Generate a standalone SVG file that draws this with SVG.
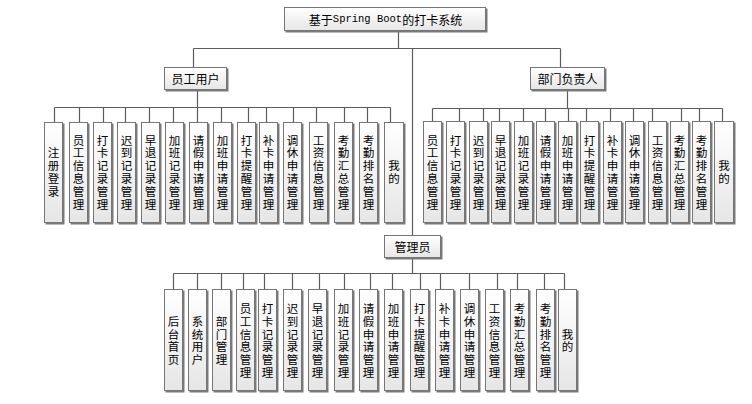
<svg xmlns="http://www.w3.org/2000/svg" width="752" height="404" viewBox="0 0 752 404">
<defs>
<linearGradient id="g" x1="0" y1="0" x2="0" y2="1">
<stop offset="0" stop-color="#ffffff"/>
<stop offset="1" stop-color="#e6e6e6"/>
</linearGradient>
<filter id="sh" x="-20%" y="-20%" width="140%" height="140%">
<feDropShadow dx="1.5" dy="1.5" stdDeviation="0.3" flood-color="#7a7a7a" flood-opacity="1"/>
</filter>
<style>
.b{fill:url(#g);stroke:#767676;stroke-width:1;filter:url(#sh)}
.c{fill:none;stroke:#5c5c5c;stroke-width:1.2}
text{font-family:"Noto Sans CJK SC","Noto Sans",sans-serif;fill:#000}
.h{font-size:12px;text-anchor:middle;dominant-baseline:central}
.v{font-size:11.5px;text-anchor:middle;dominant-baseline:central}
.m{font-family:"Liberation Mono",monospace;font-size:10.5px}
</style>
</defs>
<rect width="752" height="404" fill="#ffffff"/>
<g id="connectors" class="c">
<path d="M398.5 31V48.5M193.5 48.5H560.5M193.5 48.5V67.5M560.5 48.5V67.5M412.5 48.5V235.5"/>
<path d="M197.5 90V107.5M54.5 107.5H390.5M54.5 107.5V122.5M79.5 107.5V122.5M103.5 107.5V122.5M125.5 107.5V122.5M149.5 107.5V122.5M173.5 107.5V122.5M197.5 107.5V122.5M221.5 107.5V122.5M248.5 107.5V122.5M266.5 107.5V122.5M293.5 107.5V122.5M316.5 107.5V122.5M344.5 107.5V122.5M367.5 107.5V122.5M390.5 107.5V122.5"/>
<path d="M567.5 90V108.5M432.5 108.5H722.5M432.5 108.5V121.5M459.5 108.5V121.5M483.5 108.5V121.5M499.5 108.5V121.5M523.5 108.5V121.5M545.5 108.5V121.5M568.5 108.5V121.5M586.5 108.5V121.5M610.5 108.5V121.5M633.5 108.5V121.5M652.5 108.5V121.5M681.5 108.5V121.5M699.5 108.5V121.5M722.5 108.5V121.5"/>
<path d="M412.5 258V273.5M173.5 273.5H564.5M173.5 273.5V289.5M197.5 273.5V289.5M221.5 273.5V289.5M243.5 273.5V289.5M264.5 273.5V289.5M292.5 273.5V289.5M319.5 273.5V289.5M344.5 273.5V289.5M370.5 273.5V289.5M392.5 273.5V289.5M420.5 273.5V289.5M440.5 273.5V289.5M469.5 273.5V289.5M497.5 273.5V289.5M517.5 273.5V289.5M544.5 273.5V289.5M564.5 273.5V289.5"/>
</g>
<g id="root"><rect class="b" x="284.5" y="7.5" width="201" height="23"/><text class="h" x="385.5" y="19">基于<tspan class="m">Spring Boot</tspan>的打卡系统</text></g>
<g id="staff"><rect class="b" x="164.5" y="67.5" width="62" height="22"/><text class="h" x="195.5" y="78.5">员工用户</text></g>
<g id="dept"><rect class="b" x="530.5" y="67.5" width="74" height="22"/><text class="h" x="567.5" y="78.5">部门负责人</text></g>
<g id="admin"><rect class="b" x="384.5" y="235.5" width="56" height="22"/><text class="h" x="412.5" y="246.5">管理员</text></g>

<g id="s1"><rect class="b" x="44.5" y="122.5" width="18" height="100"/><text class="v" x="53.5 53.5 53.5 53.5" y="152.3 165.1 177.9 190.7">注册登录</text></g>
<g id="s2"><rect class="b" x="69.5" y="122.5" width="18" height="100"/><text class="v" x="78.5 78.5 78.5 78.5 78.5 78.5" y="139.5 152.3 165.1 177.9 190.7 203.5">员工信息管理</text></g>
<g id="s3"><rect class="b" x="93.5" y="122.5" width="18" height="100"/><text class="v" x="102.5 102.5 102.5 102.5 102.5 102.5" y="139.5 152.3 165.1 177.9 190.7 203.5">打卡记录管理</text></g>
<g id="s4"><rect class="b" x="117.5" y="122.5" width="18" height="100"/><text class="v" x="126.5 126.5 126.5 126.5 126.5 126.5" y="139.5 152.3 165.1 177.9 190.7 203.5">迟到记录管理</text></g>
<g id="s5"><rect class="b" x="141.5" y="122.5" width="18" height="100"/><text class="v" x="150.5 150.5 150.5 150.5 150.5 150.5" y="139.5 152.3 165.1 177.9 190.7 203.5">早退记录管理</text></g>
<g id="s6"><rect class="b" x="165.5" y="122.5" width="18" height="100"/><text class="v" x="174.5 174.5 174.5 174.5 174.5 174.5" y="139.5 152.3 165.1 177.9 190.7 203.5">加班记录管理</text></g>
<g id="s7"><rect class="b" x="189.5" y="122.5" width="18" height="100"/><text class="v" x="198.5 198.5 198.5 198.5 198.5 198.5" y="139.5 152.3 165.1 177.9 190.7 203.5">请假申请管理</text></g>
<g id="s8"><rect class="b" x="213.5" y="122.5" width="18" height="100"/><text class="v" x="222.5 222.5 222.5 222.5 222.5 222.5" y="139.5 152.3 165.1 177.9 190.7 203.5">加班申请管理</text></g>
<g id="s9"><rect class="b" x="237.5" y="122.5" width="18" height="100"/><text class="v" x="246.5 246.5 246.5 246.5 246.5 246.5" y="139.5 152.3 165.1 177.9 190.7 203.5">打卡提醒管理</text></g>
<g id="s10"><rect class="b" x="259.5" y="122.5" width="18" height="100"/><text class="v" x="268.5 268.5 268.5 268.5 268.5 268.5" y="139.5 152.3 165.1 177.9 190.7 203.5">补卡申请管理</text></g>
<g id="s11"><rect class="b" x="283.5" y="122.5" width="18" height="100"/><text class="v" x="292.5 292.5 292.5 292.5 292.5 292.5" y="139.5 152.3 165.1 177.9 190.7 203.5">调休申请管理</text></g>
<g id="s12"><rect class="b" x="309.5" y="122.5" width="18" height="100"/><text class="v" x="318.5 318.5 318.5 318.5 318.5 318.5" y="139.5 152.3 165.1 177.9 190.7 203.5">工资信息管理</text></g>
<g id="s13"><rect class="b" x="334.5" y="122.5" width="18" height="100"/><text class="v" x="343.5 343.5 343.5 343.5 343.5 343.5" y="139.5 152.3 165.1 177.9 190.7 203.5">考勤汇总管理</text></g>
<g id="s14"><rect class="b" x="359.5" y="122.5" width="18" height="100"/><text class="v" x="368.5 368.5 368.5 368.5 368.5 368.5" y="139.5 152.3 165.1 177.9 190.7 203.5">考勤排名管理</text></g>
<g id="s15"><rect class="b" x="384.5" y="122.5" width="19" height="100"/><text class="v" x="394 394" y="165.1 177.9">我的</text></g>

<g id="d1"><rect class="b" x="423.5" y="121.5" width="18" height="101"/><text class="v" x="432.5 432.5 432.5 432.5 432.5 432.5" y="139.5 152.3 165.1 177.9 190.7 203.5">员工信息管理</text></g>
<g id="d2"><rect class="b" x="446.5" y="121.5" width="18" height="101"/><text class="v" x="455.5 455.5 455.5 455.5 455.5 455.5" y="139.5 152.3 165.1 177.9 190.7 203.5">打卡记录管理</text></g>
<g id="d3"><rect class="b" x="469.5" y="121.5" width="18" height="101"/><text class="v" x="478.5 478.5 478.5 478.5 478.5 478.5" y="139.5 152.3 165.1 177.9 190.7 203.5">迟到记录管理</text></g>
<g id="d4"><rect class="b" x="491.5" y="121.5" width="18" height="101"/><text class="v" x="500.5 500.5 500.5 500.5 500.5 500.5" y="139.5 152.3 165.1 177.9 190.7 203.5">早退记录管理</text></g>
<g id="d5"><rect class="b" x="514.5" y="121.5" width="18" height="101"/><text class="v" x="523.5 523.5 523.5 523.5 523.5 523.5" y="139.5 152.3 165.1 177.9 190.7 203.5">加班记录管理</text></g>
<g id="d6"><rect class="b" x="536.5" y="121.5" width="18" height="101"/><text class="v" x="545.5 545.5 545.5 545.5 545.5 545.5" y="139.5 152.3 165.1 177.9 190.7 203.5">请假申请管理</text></g>
<g id="d7"><rect class="b" x="558.5" y="121.5" width="18" height="101"/><text class="v" x="567.5 567.5 567.5 567.5 567.5 567.5" y="139.5 152.3 165.1 177.9 190.7 203.5">加班申请管理</text></g>
<g id="d8"><rect class="b" x="580.5" y="121.5" width="18" height="101"/><text class="v" x="589.5 589.5 589.5 589.5 589.5 589.5" y="139.5 152.3 165.1 177.9 190.7 203.5">打卡提醒管理</text></g>
<g id="d9"><rect class="b" x="603.5" y="121.5" width="18" height="101"/><text class="v" x="612.5 612.5 612.5 612.5 612.5 612.5" y="139.5 152.3 165.1 177.9 190.7 203.5">补卡申请管理</text></g>
<g id="d10"><rect class="b" x="625.5" y="121.5" width="18" height="101"/><text class="v" x="634.5 634.5 634.5 634.5 634.5 634.5" y="139.5 152.3 165.1 177.9 190.7 203.5">调休申请管理</text></g>
<g id="d11"><rect class="b" x="648.5" y="121.5" width="18" height="101"/><text class="v" x="657.5 657.5 657.5 657.5 657.5 657.5" y="139.5 152.3 165.1 177.9 190.7 203.5">工资信息管理</text></g>
<g id="d12"><rect class="b" x="670.5" y="121.5" width="18" height="101"/><text class="v" x="679.5 679.5 679.5 679.5 679.5 679.5" y="139.5 152.3 165.1 177.9 190.7 203.5">考勤汇总管理</text></g>
<g id="d13"><rect class="b" x="692.5" y="121.5" width="18" height="101"/><text class="v" x="701.5 701.5 701.5 701.5 701.5 701.5" y="139.5 152.3 165.1 177.9 190.7 203.5">考勤排名管理</text></g>
<g id="d14"><rect class="b" x="714.5" y="121.5" width="19" height="101"/><text class="v" x="724 724" y="165.1 177.9">我的</text></g>

<g id="a1"><rect class="b" x="164.5" y="289.5" width="18" height="101"/><text class="v" x="173.5 173.5 173.5 173.5" y="320.8 333.6 346.4 359.2">后台首页</text></g>
<g id="a2"><rect class="b" x="188.5" y="289.5" width="18" height="101"/><text class="v" x="197.5 197.5 197.5 197.5" y="320.8 333.6 346.4 359.2">系统用户</text></g>
<g id="a3"><rect class="b" x="212.5" y="289.5" width="18" height="101"/><text class="v" x="221.5 221.5 221.5 221.5" y="320.8 333.6 346.4 359.2">部门管理</text></g>
<g id="a4"><rect class="b" x="236.5" y="289.5" width="18" height="101"/><text class="v" x="245.5 245.5 245.5 245.5 245.5 245.5" y="308 320.8 333.6 346.4 359.2 372">员工信息管理</text></g>
<g id="a5"><rect class="b" x="258.5" y="289.5" width="18" height="101"/><text class="v" x="267.5 267.5 267.5 267.5 267.5 267.5" y="308 320.8 333.6 346.4 359.2 372">打卡记录管理</text></g>
<g id="a6"><rect class="b" x="283.5" y="289.5" width="18" height="101"/><text class="v" x="292.5 292.5 292.5 292.5 292.5 292.5" y="308 320.8 333.6 346.4 359.2 372">迟到记录管理</text></g>
<g id="a7"><rect class="b" x="308.5" y="289.5" width="18" height="101"/><text class="v" x="317.5 317.5 317.5 317.5 317.5 317.5" y="308 320.8 333.6 346.4 359.2 372">早退记录管理</text></g>
<g id="a8"><rect class="b" x="334.5" y="289.5" width="18" height="101"/><text class="v" x="343.5 343.5 343.5 343.5 343.5 343.5" y="308 320.8 333.6 346.4 359.2 372">加班记录管理</text></g>
<g id="a9"><rect class="b" x="359.5" y="289.5" width="18" height="101"/><text class="v" x="368.5 368.5 368.5 368.5 368.5 368.5" y="308 320.8 333.6 346.4 359.2 372">请假申请管理</text></g>
<g id="a10"><rect class="b" x="384.5" y="289.5" width="18" height="101"/><text class="v" x="393.5 393.5 393.5 393.5 393.5 393.5" y="308 320.8 333.6 346.4 359.2 372">加班申请管理</text></g>
<g id="a11"><rect class="b" x="410.5" y="289.5" width="18" height="101"/><text class="v" x="419.5 419.5 419.5 419.5 419.5 419.5" y="308 320.8 333.6 346.4 359.2 372">打卡提醒管理</text></g>
<g id="a12"><rect class="b" x="435.5" y="289.5" width="18" height="101"/><text class="v" x="444.5 444.5 444.5 444.5 444.5 444.5" y="308 320.8 333.6 346.4 359.2 372">补卡申请管理</text></g>
<g id="a13"><rect class="b" x="460.5" y="289.5" width="18" height="101"/><text class="v" x="469.5 469.5 469.5 469.5 469.5 469.5" y="308 320.8 333.6 346.4 359.2 372">调休申请管理</text></g>
<g id="a14"><rect class="b" x="485.5" y="289.5" width="18" height="101"/><text class="v" x="494.5 494.5 494.5 494.5 494.5 494.5" y="308 320.8 333.6 346.4 359.2 372">工资信息管理</text></g>
<g id="a15"><rect class="b" x="510.5" y="289.5" width="18" height="101"/><text class="v" x="519.5 519.5 519.5 519.5 519.5 519.5" y="308 320.8 333.6 346.4 359.2 372">考勤汇总管理</text></g>
<g id="a16"><rect class="b" x="536.5" y="289.5" width="18" height="101"/><text class="v" x="545.5 545.5 545.5 545.5 545.5 545.5" y="308 320.8 333.6 346.4 359.2 372">考勤排名管理</text></g>
<g id="a17"><rect class="b" x="558.5" y="289.5" width="18" height="101"/><text class="v" x="567.5 567.5" y="333.6 346.4">我的</text></g>
</svg>
